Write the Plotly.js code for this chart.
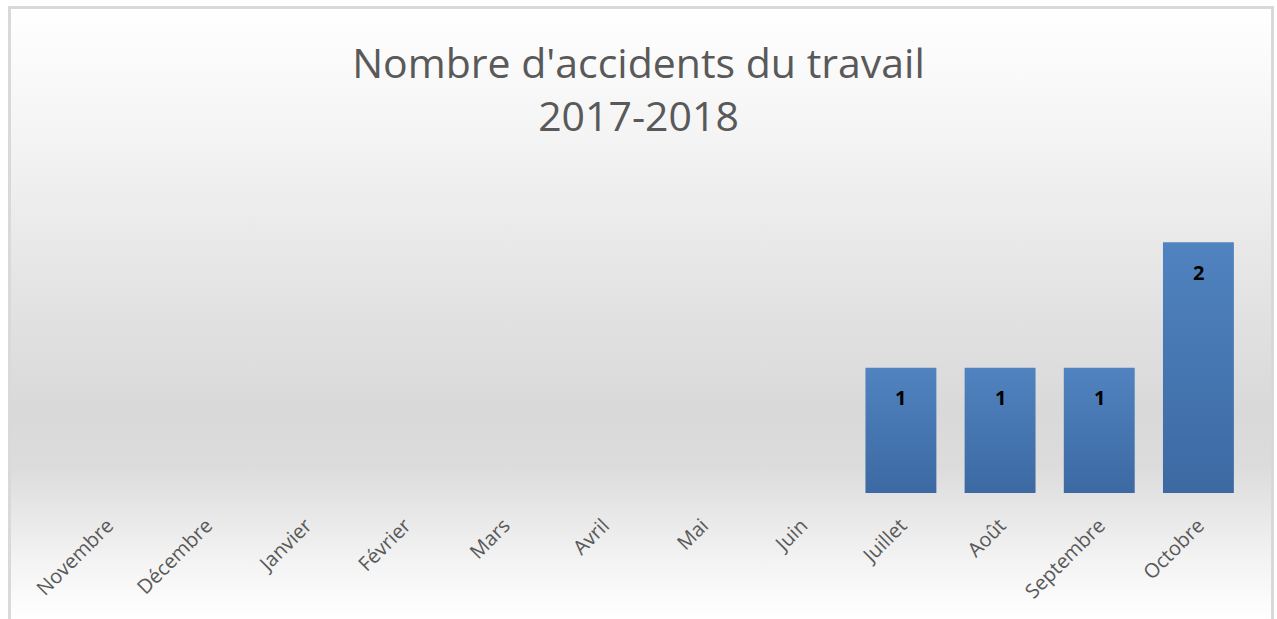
<!DOCTYPE html>
<html>
<head>
<meta charset="utf-8">
<script src="https://cdn.plot.ly/plotly-3.0.1.min.js"></script>
<style>
  html, body { margin: 0; padding: 0; width: 1277px; height: 619px; overflow: hidden; background: #ffffff; }
  #bg { position: absolute; left: 8px; top: 6px; width: 1266px; height: 700px;
        border: 3px solid #d9d9d9; box-sizing: border-box;
        background: linear-gradient(to bottom, #ffffff 0%, #f3f3f3 20%, #e4e4e4 40%, #d9d9d9 58%, #dcdcdc 66%, #f4f4f4 80%, #ffffff 88%); }
  #chart { position: absolute; left: 0; top: 0; width: 1277px; height: 619px; }
</style>
</head>
<body>
<div id="bg"></div>
<div id="chart"></div>
<script>
const months = ["Novembre", "Décembre", "Janvier", "Février", "Mars", "Avril", "Mai", "Juin", "Juillet", "Août", "Septembre", "Octobre"];
const accidents = [0, 0, 0, 0, 0, 0, 0, 0, 1, 1, 1, 2];
const chartTitle = "Nombre d'accidents du travail<br>2017-2018";

const annotations = [];
months.forEach((m, i) => {
  if (accidents[i] > 0) {
    annotations.push({
      x: m, y: accidents[i], xref: 'x', yref: 'y',
      text: String(accidents[i]), showarrow: false,
      yshift: -30,
      font: { family: 'Open Sans, sans-serif', size: 20, color: '#000000', weight: 'bold' }
    });
  }
});

const trace = {
  type: 'bar',
  x: months,
  y: accidents,
  width: 0.715,
  marker: { color: '#4676b1', line: { width: 0 } },
  hoverinfo: 'x+y'
};

const layout = {
  width: 1277, height: 619,
  margin: { l: 58, r: 29, t: 117, b: 126 },
  paper_bgcolor: 'rgba(0,0,0,0)',
  plot_bgcolor: 'rgba(0,0,0,0)',
  showlegend: false,
  title: {
    text: chartTitle,
    x: 0.5, xanchor: 'center',
    y: 0.874, yanchor: 'middle',
    font: { family: 'Open Sans, sans-serif', size: 41, color: '#595959' }
  },
  xaxis: {
    type: 'category',
    tickangle: -45,
    showgrid: false, zeroline: false, showline: false,
    ticks: '',
    ticklabelstandoff: 16,
    tickfont: { family: 'Open Sans, sans-serif', size: 20, color: '#595959' }
  },
  yaxis: {
    range: [0, 3],
    visible: false,
    showgrid: false, zeroline: false
  },
  annotations: annotations
};

Plotly.newPlot('chart', [trace], layout, { displayModeBar: false, staticPlot: true }).then(gd => {
  const svg = gd.querySelector('svg.main-svg');
  const ns = 'http://www.w3.org/2000/svg';
  let defs = svg.querySelector('defs');
  if (!defs) { defs = document.createElementNS(ns, 'defs'); svg.insertBefore(defs, svg.firstChild); }
  const grad = document.createElementNS(ns, 'linearGradient');
  grad.setAttribute('id', 'barGrad');
  grad.setAttribute('x1', '0'); grad.setAttribute('y1', '0');
  grad.setAttribute('x2', '0'); grad.setAttribute('y2', '1');
  [['0%', '#5083c0'], ['100%', '#3c69a2']].forEach(([o, c]) => {
    const s = document.createElementNS(ns, 'stop');
    s.setAttribute('offset', o); s.setAttribute('stop-color', c);
    grad.appendChild(s);
  });
  defs.appendChild(grad);
  gd.querySelectorAll('.bars .point path').forEach(p => { p.style.fill = 'url(#barGrad)'; });
});
</script>
</body>
</html>
